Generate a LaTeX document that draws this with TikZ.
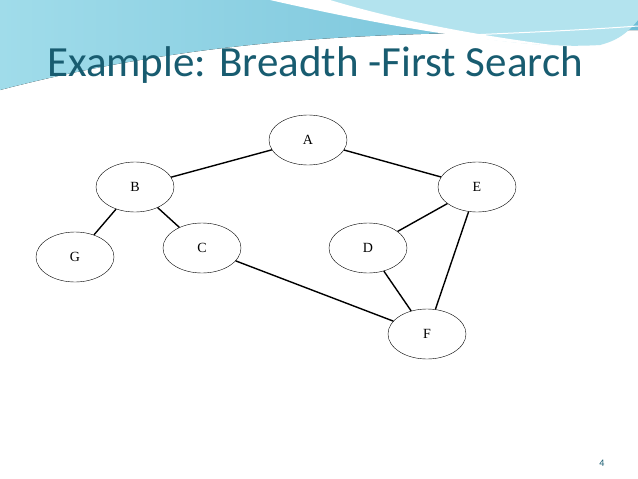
\documentclass[tikz,border=0pt]{standalone}
\usetikzlibrary{shapes.geometric}
\usepackage{fontspec}
\newfontfamily\titlefont{Carlito}
\setmainfont{Liberation Serif}
\definecolor{band}{RGB}{110,190,215}
\definecolor{bandlight}{RGB}{160,220,234}
\definecolor{titlec}{RGB}{24,92,112}
\begin{document}
\begin{tikzpicture}[x=1pt,y=-1pt,
  vert/.style={draw,ellipse,minimum width=78pt,minimum height=50pt,font=\fontsize{14}{14}\selectfont,inner sep=0pt},
  edge/.style={line width=1.4pt}]
\useasboundingbox (0,0) rectangle (638,479);
\fill[white] (0,0) rectangle (638,479);
% top band
\fill[left color=bandlight,right color=band] (0,0) -- (638,0) -- (638,30) .. controls (450,35) and (250,25) .. (0,90) -- cycle;
\fill[bandlight!80] (300,0) .. controls (420,30) and (520,50) .. (600,45) .. controls (620,40) and (630,30) .. (638,20) -- (638,0) -- cycle;
\fill[white] (270,0) .. controls (380,25) and (480,42) .. (560,46) .. controls (450,32) and (380,15) .. (330,0) -- cycle;
\draw[white,line width=1pt] (0,92) .. controls (200,35) and (450,40) .. (638,26);
\node[anchor=base west,font=\titlefont\fontsize{43}{43}\selectfont,text=titlec,inner sep=0pt] (title) at (47,76) {Example: Breadth -First Search};
\node[vert] (A) at (308,140) {A};
\node[vert] (B) at (135,187) {B};
\node[vert] (E) at (477,187) {E};
\node[vert] (G) at (75,257) {G};
\node[vert] (C) at (202,248) {C};
\node[vert] (D) at (368,248) {D};
\node[vert] (F) at (427,334) {F};
\draw[edge] (A) -- (B);
\draw[edge] (A) -- (E);
\draw[edge] (B) -- (G);
\draw[edge] (B) -- (C);
\draw[edge] (C) -- (F);
\draw[edge] (D) -- (E);
\draw[edge] (D) -- (F);
\draw[edge] (E) -- (F);
\node[font=\titlefont\fontsize{10}{10}\selectfont,text=titlec] (num) at (602,463) {4};
\end{tikzpicture}
\end{document}
